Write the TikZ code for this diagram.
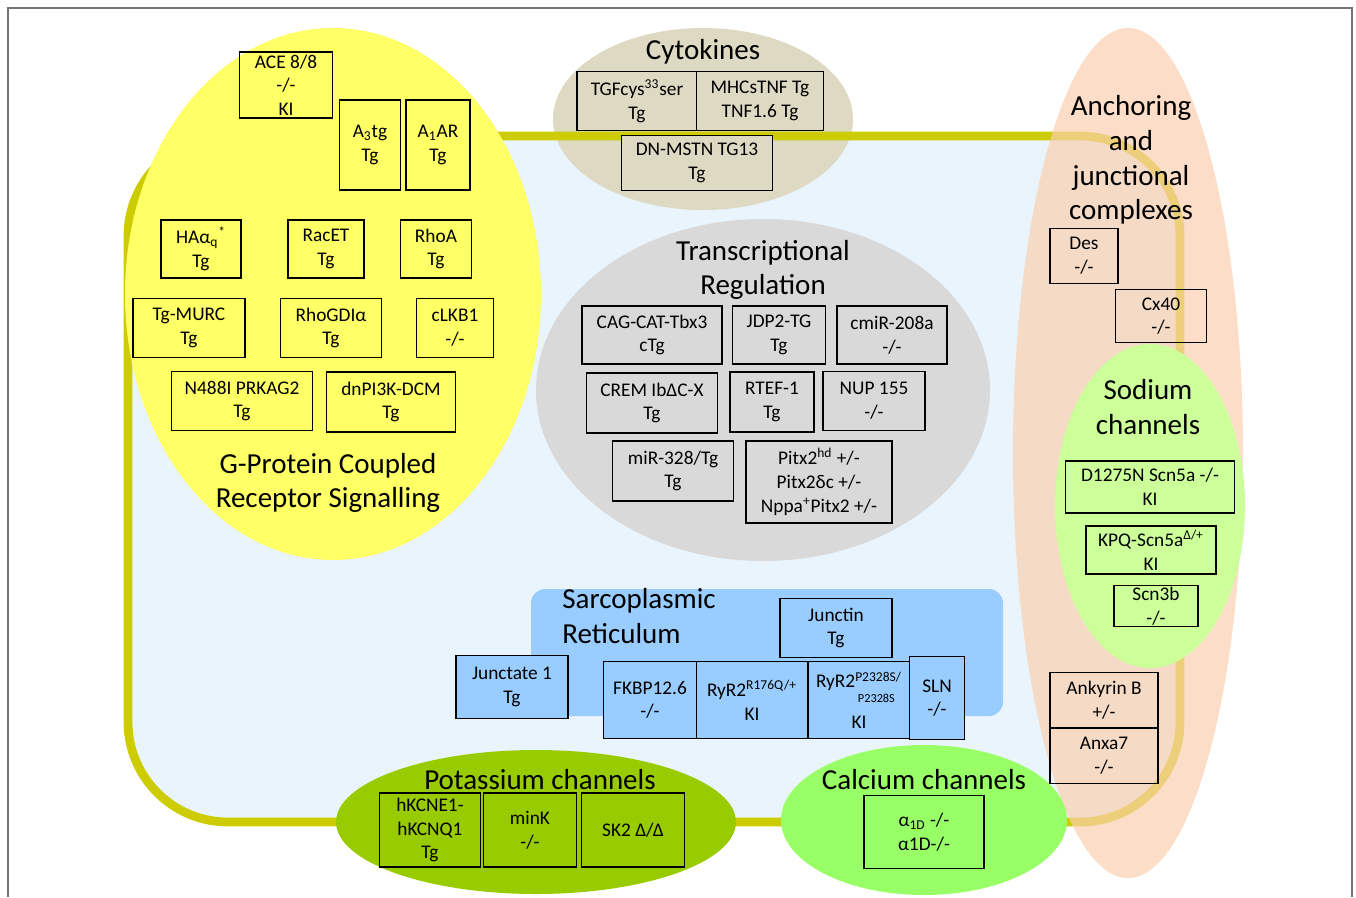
\documentclass[tikz,border=0pt]{standalone}
\usepackage{fontspec}
\setmainfont{Carlito}
\usepackage{tikz}

\definecolor{cell blue}{HTML}{EAF4FC}
\definecolor{membrane olive}{HTML}{CCCC00}
\definecolor{gpcr yellow}{HTML}{FFFF66}
\definecolor{cytokine tan}{HTML}{DDD9C3}
\definecolor{tr gray}{HTML}{D9D9D9}
\definecolor{anchor peach}{HTML}{FBD0B0}
\definecolor{sodium green}{HTML}{CCFF99}
\definecolor{sr blue}{HTML}{99CCFF}
\definecolor{potassium green}{HTML}{99CC00}
\definecolor{calcium green}{HTML}{99FF66}

\newcommand\genefont{\fontsize{11}{13.5}\selectfont}
\newcommand\groupfont{\fontsize{16.5}{19.8}\selectfont}

\begin{document}
\begin{tikzpicture}[x=0.02cm,y=-0.02cm,
				gene box/.style 2 args={draw,line width=0.7pt,align=center,inner sep=1pt,font=\genefont,
					minimum width=#1*0.02cm,minimum height=#2*0.02cm},
				group title/.style={align=center,font=\groupfont,inner sep=0pt}]
				
				\useasboundingbox (0,0) rectangle (1356,897);
				\draw[line width=0.8pt,black!55] (8,897) -- (8,8) -- (1352,8) -- (1352,897);
				
				\fill[cell blue,rounded corners=2cm] (128,136) rectangle (1180,822);
				\fill[cytokine tan] (703,119) ellipse [x radius=150,y radius=91];
				\draw[membrane olive,line width=5pt,rounded corners=2cm] (128,136) rectangle (1180,822);
				\fill[gpcr yellow] (333,294) ellipse [x radius=208,y radius=266];
				\fill[tr gray] (763,390) ellipse [x radius=227,y radius=171];
				\fill[anchor peach,opacity=0.7] (1128,453) ellipse [x radius=115,y radius=425];
				\fill[sodium green] (1150,506) ellipse [x radius=95,y radius=162];
				\fill[sr blue,rounded corners=8pt] (531,589) rectangle (1003,716);
				\fill[potassium green] (536,822) ellipse [x radius=200,y radius=72];
				\fill[calcium green] (924,820) ellipse [x radius=143,y radius=75];
				
				\node[group title] (cyto) at (703,52) {Cytokines};
				\node[group title] (gpcr) at (328,483) {G-Protein Coupled\\Receptor Signalling};
				\node[group title] (trans) at (763,270) {Transcriptional\\Regulation};
				\node[group title] (anchoring) at (1131,160) {Anchoring\\and\\junctional\\complexes};
				\node[group title] (sodium) at (1148,407) {Sodium\\channels};
				\node[group title,align=left,anchor=west] (sr) at (562,616) {Sarcoplasmic\\Reticulum};
				\node[group title] (potassium) at (540,780) {Potassium channels};
				\node[group title] (calcium) at (924,780) {Calcium channels};
				
				\node[gene box={93}{66}] (ace) at (286,85) {ACE 8/8\\-/-\\KI};
				\node[gene box={61}{90}] (athree) at (370,145) {A\textsubscript{3}tg\\Tg};
				\node[gene box={64}{90}] (aone) at (438,145) {A\textsubscript{1}AR\\Tg};
				\node[gene box={80}{58}] (haq) at (201,249) {HAα\textsubscript{q}\textsuperscript{*}\\Tg};
				\node[gene box={76}{58}] (racet) at (326,249) {RacET\\Tg};
				\node[gene box={71}{58}] (rhoa) at (436,249) {RhoA\\Tg};
				\node[gene box={112}{59}] (murc) at (189,328) {Tg-MURC\\Tg};
				\node[gene box={101}{59}] (rhogdi) at (331,328) {RhoGDIα\\Tg};
				\node[gene box={77}{59}] (clkb) at (455,328) {cLKB1\\-/-};
				\node[gene box={141}{59}] (prkag) at (242,401) {N488I PRKAG2\\Tg};
				\node[gene box={129}{60}] (dnpi) at (391,402) {dnPI3K-DCM\\Tg};
				
				\node[gene box={120}{59},fill=cytokine tan] (tgfcys) at (637,101) {TGFcys\textsuperscript{33}ser\\Tg};
				\node[gene box={127}{59},fill=cytokine tan] (mhcstnf) at (760,101) {MHCsTNF Tg\\TNF1.6 Tg};
				\node[gene box={151}{55},fill=cytokine tan] (dnmstn) at (697,163) {DN-MSTN TG13\\Tg};
				
				\node[gene box={140}{58}] (cagcat) at (652,335) {CAG-CAT-Tbx3\\cTg};
				\node[gene box={93}{58}] (jdp) at (779,335) {JDP2-TG\\Tg};
				\node[gene box={110}{58}] (cmir) at (892,335) {cmiR-208a\\-/-};
				\node[gene box={131}{60}] (crem) at (652,403) {CREM IbΔC-X\\Tg};
				\node[gene box={84}{60}] (rtef) at (772,402) {RTEF-1\\Tg};
				\node[gene box={102}{59}] (nup) at (874,401) {NUP 155\\-/-};
				\node[gene box={121}{60}] (mir) at (673,471) {miR-328/Tg\\Tg};
				\node[gene box={146}{82}] (pitx) at (819,482) {Pitx2\textsuperscript{hd} +/-\\Pitx2δc +/-\\Nppa\textsuperscript{+}Pitx2 +/-};
				
				\node[gene box={68}{55}] (des) at (1084,256) {Des\\-/-};
				\node[gene box={91}{53}] (cx) at (1161,316) {Cx40\\-/-};
				\node[gene box={108}{55}] (ankb) at (1104,700) {Ankyrin B\\+/-};
				\node[gene box={108}{55}] (anxa) at (1104,756) {Anxa7\\-/-};
				
				\node[gene box={169}{52}] (scnd) at (1150,487) {D1275N Scn5a -/-\\KI};
				\node[gene box={130}{48}] (kpq) at (1151,550) {KPQ-Scn5a\textsuperscript{Δ/+}\\KI};
				\node[gene box={84}{41}] (scnb) at (1156,606) {Scn3b\\-/-};
				
				\node[gene box={112}{59}] (junctin) at (836,628) {Junctin\\Tg};
				\node[gene box={112}{63},fill=sr blue] (junctate) at (512,687) {Junctate 1\\Tg};
				\node[gene box={93}{77},fill=sr blue] (fkbp) at (650,700) {FKBP12.6\\-/-};
				\node[gene box={111}{77},fill=sr blue] (ryrr) at (752,700) {RyR2\textsuperscript{R176Q/+}\\KI};
				\node[gene box={102}{77},fill=sr blue] (ryrp) at (859,700) {RyR2\textsuperscript{P2328S/}\\[-5pt]\hspace*{1.8em}{\fontsize{7}{8}\selectfont P2328S}\\[1pt]KI};
				\node[gene box={55}{83},fill=sr blue] (sln) at (937,698) {SLN\\-/-};
				
				\node[gene box={101}{74},fill=potassium green] (hkcne) at (430,830) {hKCNE1-\\hKCNQ1\\Tg};
				\node[gene box={93}{74},fill=potassium green] (mink) at (530,830) {minK\\-/-};
				\node[gene box={103}{74},fill=potassium green] (sk) at (633,830) {SK2 Δ/Δ};
				\node[gene box={120}{73}] (alpha) at (924,832) {α\textsubscript{1D} -/-\\α1D-/-};
				
\end{tikzpicture}
\end{document}
